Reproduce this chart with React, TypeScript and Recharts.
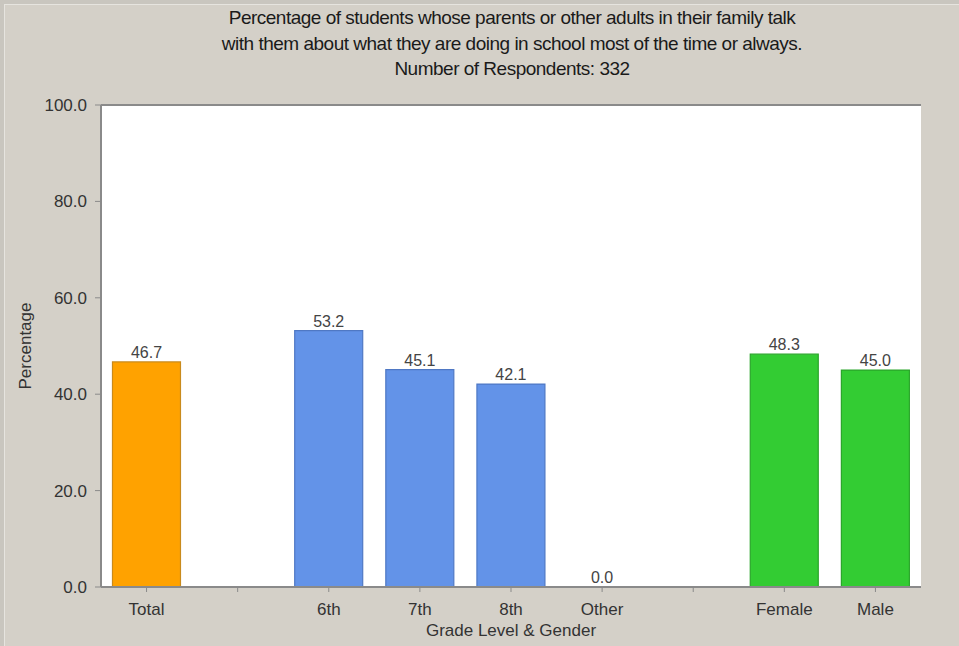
import React from 'react';
import {
  BarChart,
  Bar,
  XAxis,
  YAxis,
  CartesianGrid,
  Cell,
  LabelList,
} from 'recharts';

// blank entries are spacer slots between the total / grade / gender groups
const categories = ['Total', '', '6th', '7th', '8th', 'Other', '', 'Female', 'Male'];
const percentages: (number | null)[] = [46.7, null, 53.2, 45.1, 42.1, 0.0, null, 48.3, 45.0];
const groups = ['total', 'none', 'grade', 'grade', 'grade', 'grade', 'none', 'gender', 'gender'];
const yTicks = [0, 20, 40, 60, 80, 100];

const titleLines = [
  'Percentage of students whose parents or other adults in their family talk',
  'with them about what they are doing in school most of the time or always.',
  'Number of Respondents: 332',
];

const groupFill: Record<string, string> = {
  total: '#ffa200',
  grade: '#6393e8',
  gender: '#33cc33',
  none: 'none',
};
const groupStroke: Record<string, string> = {
  total: '#c98a1c',
  grade: '#4f78c4',
  gender: '#2aa52a',
  none: 'none',
};

const rows = categories.map((name, i) => ({
  name,
  value: percentages[i],
  group: groups[i],
}));

const FONT = '"Liberation Sans", Arial, sans-serif';
const AXIS = '#8a8a8a';
const TEXT = '#333333';

const YTitle = (props: any) => {
  const { x, y, height } = props.viewBox;
  const cx = x + 25;
  const cy = y + height / 2;
  return (
    <text
      x={cx}
      y={cy}
      transform={`rotate(-90 ${cx} ${cy})`}
      textAnchor="middle"
      dominantBaseline="central"
      fontSize={17}
      fill={TEXT}
      fontFamily={FONT}
    >
      Percentage
    </text>
  );
};

// zero-valued bars still need a rectangle so their "0.0" label gets placed
const zeroBarSize = (value: any) => (value === 0 ? 0.01 : 0);

export default function App() {
  return (
    <div
      style={{
        position: 'absolute',
        left: 0,
        top: 0,
        width: 959,
        height: 646,
        background: '#d4d0c8',
        boxShadow: 'inset 4px 4px 0 #c9c6bf, inset 5px 5px 0 #e6e4df',
        fontFamily: FONT,
      }}
    >
      <div
        style={{
          position: 'absolute',
          left: 0,
          top: 5,
          width: 1024,
          textAlign: 'center',
          color: '#1a1a1a',
          fontSize: 19,
          lineHeight: '25.5px',
          letterSpacing: -0.5,
        }}
      >
        {titleLines.map((t) => (
          <div key={t}>{t}</div>
        ))}
      </div>
      <BarChart
        width={959}
        height={646}
        data={rows}
        margin={{ top: 104, right: 38, left: 0, bottom: 0 }}
        barCategoryGap="12.6%"
        style={{ position: 'absolute', left: 0, top: 0 }}
      >
        <CartesianGrid fill="#ffffff" horizontal={false} vertical={false} />
        <XAxis
          dataKey="name"
          interval={0}
          height={59}
          axisLine={{ stroke: AXIS, strokeWidth: 2 }}
          tickLine={{ stroke: AXIS }}
          tickSize={5}
          tickMargin={11}
          tick={{ fontSize: 17, fill: TEXT, fontFamily: FONT }}
          label={{
            value: 'Grade Level & Gender',
            position: 'insideBottom',
            offset: 10,
            fontSize: 17,
            fill: TEXT,
            fontFamily: FONT,
          }}
        />
        <XAxis
          xAxisId="frame"
          dataKey="name"
          orientation="top"
          height={1}
          tick={false}
          tickLine={false}
          axisLine={{ stroke: AXIS, strokeWidth: 2 }}
        />
        <YAxis
          domain={[0, 100]}
          ticks={yTicks}
          width={101}
          axisLine={{ stroke: AXIS, strokeWidth: 2 }}
          tickLine={{ stroke: AXIS }}
          tickSize={6}
          tickMargin={8}
          tickFormatter={(v: number) => v.toFixed(1)}
          tick={{ fontSize: 17, fill: TEXT, fontFamily: FONT }}
          label={{ content: YTitle }}
        />
        <YAxis
          yAxisId="frame"
          orientation="right"
          width={0}
          domain={[0, 100]}
          tick={false}
          tickLine={false}
          axisLine={{ stroke: AXIS, strokeWidth: 2 }}
        />
        <Bar
          dataKey="value"
          isAnimationActive={false}
          strokeWidth={1.2}
          minPointSize={zeroBarSize}
        >
          {rows.map((r, i) => (
            <Cell key={i} fill={groupFill[r.group]} stroke={groupStroke[r.group]} />
          ))}
          <LabelList
            dataKey="value"
            position="top"
            offset={4}
            formatter={(v: any) => (v == null ? '' : Number(v).toFixed(1))}
            style={{ fontSize: 16, fill: '#444', fontFamily: FONT }}
          />
        </Bar>
      </BarChart>
    </div>
  );
}
